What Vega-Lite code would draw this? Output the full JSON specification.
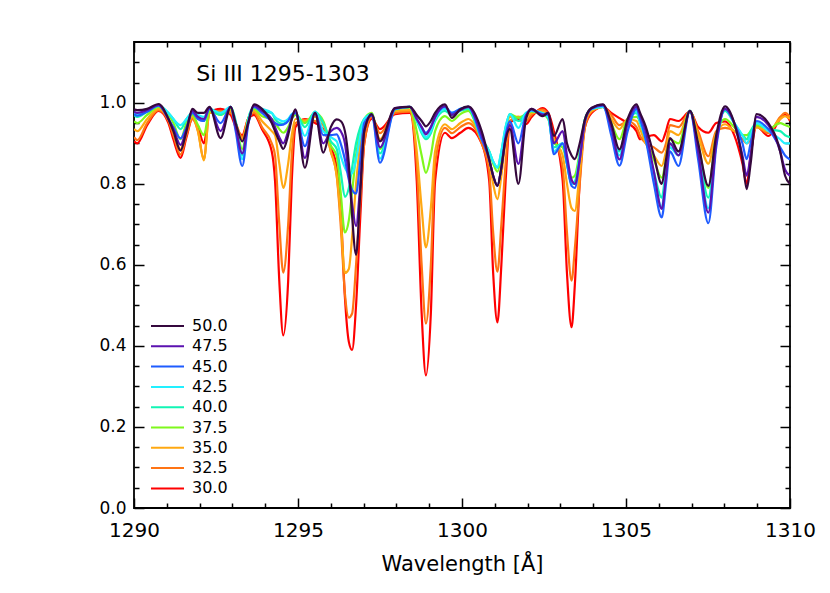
{
  "$schema": "https://vega.github.io/schema/vega-lite/v6.json",
  "width": 656,
  "height": 466,
  "autosize": {"type": "none"},
  "padding": {"left": 134, "top": 42, "right": 40, "bottom": 85},
  "background": "white",
  "config": {
    "view": {"stroke": "black", "strokeWidth": 1.8},
    "font": "DejaVu Sans",
    "axis": {"domain": false, "grid": false, "tickColor": "black", "tickWidth": 1.5, "labelColor": "black", "titleColor": "black", "labelFont": "DejaVu Sans", "titleFont": "DejaVu Sans"}
  },
  "datasets": {
    "spec": [
      {"w":1290.00,"t500":0.984,"t475":0.978,"t450":0.972,"t425":0.975,"t400":0.970,"t375":0.954,"t350":0.935,"t325":0.915,"t300":0.905},
      {"w":1290.10,"t500":0.982,"t475":0.975,"t450":0.968,"t425":0.972,"t400":0.965,"t375":0.950,"t350":0.930,"t325":0.908,"t300":0.900},
      {"w":1290.40,"t500":0.985,"t475":0.982,"t450":0.978,"t425":0.980,"t400":0.978,"t375":0.970,"t350":0.960,"t325":0.950,"t300":0.945},
      {"w":1290.75,"t500":0.997,"t475":0.995,"t450":0.993,"t425":0.993,"t400":0.992,"t375":0.990,"t350":0.985,"t325":0.982,"t300":0.980},
      {"w":1291.05,"t500":0.960,"t475":0.960,"t450":0.960,"t425":0.975,"t400":0.975,"t375":0.970,"t350":0.960,"t325":0.955,"t300":0.950},
      {"w":1291.20,"t500":0.930,"t475":0.935,"t450":0.940,"t425":0.960,"t400":0.960,"t375":0.950,"t350":0.930,"t325":0.920,"t300":0.910},
      {"w":1291.42,"t500":0.882,"t475":0.896,"t450":0.912,"t425":0.945,"t400":0.935,"t375":0.910,"t350":0.885,"t325":0.872,"t300":0.864},
      {"w":1291.60,"t500":0.930,"t475":0.935,"t450":0.940,"t425":0.960,"t400":0.960,"t375":0.950,"t350":0.935,"t325":0.920,"t300":0.915},
      {"w":1291.78,"t500":0.985,"t475":0.980,"t450":0.975,"t425":0.975,"t400":0.975,"t375":0.970,"t350":0.965,"t325":0.960,"t300":0.960},
      {"w":1291.95,"t500":0.975,"t475":0.965,"t450":0.960,"t425":0.970,"t400":0.965,"t375":0.945,"t350":0.930,"t325":0.930,"t300":0.940},
      {"w":1292.13,"t500":0.975,"t475":0.960,"t450":0.955,"t425":0.965,"t400":0.955,"t375":0.920,"t350":0.858,"t325":0.860,"t300":0.900},
      {"w":1292.30,"t500":0.990,"t475":0.988,"t450":0.985,"t425":0.985,"t400":0.985,"t375":0.980,"t350":0.975,"t325":0.975,"t300":0.975},
      {"w":1292.64,"t500":0.913,"t475":0.930,"t450":0.950,"t425":0.975,"t400":0.970,"t375":0.970,"t350":0.975,"t325":0.980,"t300":0.985},
      {"w":1292.95,"t500":0.990,"t475":0.990,"t450":0.990,"t425":0.990,"t400":0.990,"t375":0.985,"t350":0.980,"t325":0.975,"t300":0.970},
      {"w":1293.10,"t500":0.950,"t475":0.940,"t450":0.930,"t425":0.950,"t400":0.955,"t375":0.950,"t350":0.950,"t325":0.950,"t300":0.940},
      {"w":1293.30,"t500":0.905,"t475":0.875,"t450":0.844,"t425":0.861,"t400":0.870,"t375":0.886,"t350":0.910,"t325":0.915,"t300":0.920},
      {"w":1293.48,"t500":0.950,"t475":0.950,"t450":0.945,"t425":0.955,"t400":0.960,"t375":0.960,"t350":0.960,"t325":0.960,"t300":0.960},
      {"w":1293.66,"t500":0.996,"t475":0.993,"t450":0.990,"t425":0.990,"t400":0.990,"t375":0.985,"t350":0.980,"t325":0.975,"t300":0.970},
      {"w":1293.90,"t500":0.985,"t475":0.980,"t450":0.975,"t425":0.985,"t400":0.980,"t375":0.967,"t350":0.955,"t325":0.940,"t300":0.935},
      {"w":1294.20,"t500":0.950,"t475":0.960,"t450":0.955,"t425":0.975,"t400":0.975,"t375":0.960,"t350":0.930,"t325":0.900,"t300":0.880},
      {"w":1294.30,"t500":0.930,"t475":0.940,"t450":0.950,"t425":0.965,"t400":0.960,"t375":0.950,"t350":0.920,"t325":0.870,"t300":0.807},
      {"w":1294.43,"t500":0.905,"t475":0.915,"t450":0.945,"t425":0.958,"t400":0.950,"t375":0.935,"t350":0.850,"t325":0.700,"t300":0.560},
      {"w":1294.55,"t500":0.886,"t475":0.900,"t450":0.946,"t425":0.954,"t400":0.948,"t375":0.926,"t350":0.790,"t325":0.581,"t300":0.426},
      {"w":1294.70,"t500":0.920,"t475":0.930,"t450":0.955,"t425":0.960,"t400":0.958,"t375":0.940,"t350":0.850,"t325":0.700,"t300":0.560},
      {"w":1294.81,"t500":0.960,"t475":0.960,"t450":0.970,"t425":0.972,"t400":0.970,"t375":0.960,"t350":0.920,"t325":0.870,"t300":0.807},
      {"w":1294.92,"t500":0.984,"t475":0.980,"t450":0.975,"t425":0.975,"t400":0.975,"t375":0.970,"t350":0.960,"t325":0.950,"t300":0.940},
      {"w":1295.21,"t500":0.840,"t475":0.864,"t450":0.893,"t425":0.918,"t400":0.940,"t375":0.950,"t350":0.955,"t325":0.958,"t300":0.960},
      {"w":1295.52,"t500":0.975,"t475":0.975,"t450":0.975,"t425":0.978,"t400":0.978,"t375":0.975,"t350":0.965,"t325":0.955,"t300":0.950},
      {"w":1295.77,"t500":0.877,"t475":0.900,"t450":0.920,"t425":0.930,"t400":0.950,"t375":0.955,"t350":0.950,"t325":0.945,"t300":0.935},
      {"w":1296.00,"t500":0.940,"t475":0.930,"t450":0.920,"t425":0.915,"t400":0.905,"t375":0.895,"t350":0.880,"t325":0.880,"t300":0.890},
      {"w":1296.18,"t500":0.959,"t475":0.938,"t450":0.922,"t425":0.905,"t400":0.886,"t375":0.868,"t350":0.820,"t325":0.820,"t300":0.840},
      {"w":1296.30,"t500":0.955,"t475":0.930,"t450":0.900,"t425":0.870,"t400":0.830,"t375":0.780,"t350":0.720,"t325":0.700,"t300":0.740},
      {"w":1296.43,"t500":0.930,"t475":0.900,"t450":0.860,"t425":0.840,"t400":0.768,"t375":0.680,"t350":0.580,"t325":0.530,"t300":0.520},
      {"w":1296.55,"t500":0.850,"t475":0.820,"t450":0.810,"t425":0.826,"t400":0.790,"t375":0.710,"t350":0.590,"t325":0.470,"t300":0.410},
      {"w":1296.65,"t500":0.720,"t475":0.750,"t450":0.785,"t425":0.826,"t400":0.840,"t375":0.780,"t350":0.670,"t325":0.480,"t300":0.390},
      {"w":1296.77,"t500":0.625,"t475":0.696,"t450":0.776,"t425":0.860,"t400":0.900,"t375":0.870,"t350":0.800,"t325":0.600,"t300":0.500},
      {"w":1296.90,"t500":0.780,"t475":0.800,"t450":0.860,"t425":0.920,"t400":0.940,"t375":0.930,"t350":0.900,"t325":0.760,"t300":0.720},
      {"w":1297.02,"t500":0.930,"t475":0.930,"t450":0.950,"t425":0.960,"t400":0.960,"t375":0.960,"t350":0.950,"t325":0.900,"t300":0.900},
      {"w":1297.25,"t500":0.972,"t475":0.970,"t450":0.968,"t425":0.970,"t400":0.972,"t375":0.975,"t350":0.970,"t325":0.965,"t300":0.960},
      {"w":1297.50,"t500":0.905,"t475":0.890,"t450":0.852,"t425":0.862,"t400":0.875,"t375":0.886,"t350":0.910,"t325":0.925,"t300":0.935},
      {"w":1297.96,"t500":0.987,"t475":0.987,"t450":0.985,"t425":0.985,"t400":0.985,"t375":0.983,"t350":0.980,"t325":0.975,"t300":0.972},
      {"w":1298.41,"t500":0.990,"t475":0.990,"t450":0.990,"t425":0.990,"t400":0.990,"t375":0.988,"t350":0.982,"t325":0.978,"t300":0.975},
      {"w":1298.62,"t500":0.970,"t475":0.960,"t450":0.960,"t425":0.960,"t400":0.955,"t375":0.930,"t350":0.880,"t325":0.850,"t300":0.807},
      {"w":1298.77,"t500":0.955,"t475":0.940,"t450":0.940,"t425":0.930,"t400":0.925,"t375":0.870,"t350":0.740,"t325":0.600,"t300":0.480},
      {"w":1298.90,"t500":0.942,"t475":0.922,"t450":0.926,"t425":0.915,"t400":0.910,"t375":0.827,"t350":0.643,"t325":0.455,"t300":0.327},
      {"w":1299.05,"t500":0.955,"t475":0.940,"t450":0.940,"t425":0.930,"t400":0.925,"t375":0.870,"t350":0.740,"t325":0.600,"t300":0.480},
      {"w":1299.18,"t500":0.975,"t475":0.965,"t450":0.965,"t425":0.960,"t400":0.955,"t375":0.930,"t350":0.880,"t325":0.850,"t300":0.807},
      {"w":1299.48,"t500":0.996,"t475":0.992,"t450":0.990,"t425":0.985,"t400":0.980,"t375":0.967,"t350":0.947,"t325":0.938,"t300":0.926},
      {"w":1299.69,"t500":0.963,"t475":0.970,"t450":0.975,"t425":0.975,"t400":0.970,"t375":0.955,"t350":0.935,"t325":0.925,"t300":0.913},
      {"w":1299.95,"t500":0.984,"t475":0.982,"t450":0.985,"t425":0.985,"t400":0.980,"t375":0.972,"t350":0.950,"t325":0.940,"t300":0.926},
      {"w":1300.19,"t500":0.991,"t475":0.990,"t450":0.990,"t425":0.990,"t400":0.985,"t375":0.980,"t350":0.960,"t325":0.950,"t300":0.938},
      {"w":1300.60,"t500":0.930,"t475":0.920,"t450":0.910,"t425":0.910,"t400":0.910,"t375":0.910,"t350":0.910,"t325":0.900,"t300":0.900},
      {"w":1300.83,"t500":0.860,"t475":0.860,"t450":0.860,"t425":0.880,"t400":0.880,"t375":0.880,"t350":0.860,"t325":0.830,"t300":0.807},
      {"w":1300.95,"t500":0.820,"t475":0.820,"t450":0.820,"t425":0.855,"t400":0.855,"t375":0.850,"t350":0.800,"t325":0.680,"t300":0.580},
      {"w":1301.08,"t500":0.795,"t475":0.795,"t450":0.795,"t425":0.840,"t400":0.840,"t375":0.830,"t350":0.762,"t325":0.583,"t300":0.458},
      {"w":1301.20,"t500":0.840,"t475":0.840,"t450":0.840,"t425":0.880,"t400":0.880,"t375":0.870,"t350":0.820,"t325":0.700,"t300":0.600},
      {"w":1301.33,"t500":0.910,"t475":0.910,"t450":0.920,"t425":0.940,"t400":0.940,"t375":0.935,"t350":0.910,"t325":0.850,"t300":0.807},
      {"w":1301.46,"t500":0.935,"t475":0.945,"t450":0.954,"t425":0.972,"t400":0.972,"t375":0.972,"t350":0.965,"t325":0.955,"t300":0.950},
      {"w":1301.72,"t500":0.800,"t475":0.849,"t450":0.900,"t425":0.938,"t400":0.955,"t375":0.963,"t350":0.965,"t325":0.965,"t300":0.960},
      {"w":1301.95,"t500":0.960,"t475":0.965,"t450":0.970,"t425":0.975,"t400":0.975,"t375":0.972,"t350":0.965,"t325":0.955,"t300":0.947},
      {"w":1302.12,"t500":0.985,"t475":0.985,"t450":0.982,"t425":0.980,"t400":0.980,"t375":0.978,"t350":0.975,"t325":0.970,"t300":0.965},
      {"w":1302.45,"t500":0.967,"t475":0.970,"t450":0.972,"t425":0.975,"t400":0.975,"t375":0.972,"t350":0.978,"t325":0.983,"t300":0.987},
      {"w":1302.63,"t500":0.975,"t475":0.975,"t450":0.970,"t425":0.965,"t400":0.962,"t375":0.960,"t350":0.965,"t325":0.970,"t300":0.975},
      {"w":1302.80,"t500":0.918,"t475":0.900,"t450":0.873,"t425":0.880,"t400":0.890,"t375":0.900,"t350":0.910,"t325":0.915,"t300":0.930},
      {"w":1303.07,"t500":0.960,"t475":0.930,"t450":0.900,"t425":0.900,"t400":0.900,"t375":0.890,"t350":0.870,"t325":0.840,"t300":0.807},
      {"w":1303.20,"t500":0.900,"t475":0.870,"t450":0.850,"t425":0.850,"t400":0.850,"t375":0.850,"t350":0.800,"t325":0.680,"t300":0.580},
      {"w":1303.34,"t500":0.870,"t475":0.810,"t450":0.795,"t425":0.800,"t400":0.800,"t375":0.815,"t350":0.740,"t325":0.561,"t300":0.446},
      {"w":1303.44,"t500":0.861,"t475":0.800,"t450":0.790,"t425":0.800,"t400":0.805,"t375":0.820,"t350":0.733,"t325":0.640,"t300":0.550},
      {"w":1303.59,"t500":0.900,"t475":0.860,"t450":0.860,"t425":0.870,"t400":0.870,"t375":0.880,"t350":0.830,"t325":0.800,"t300":0.807},
      {"w":1303.75,"t500":0.960,"t475":0.955,"t450":0.955,"t425":0.960,"t400":0.960,"t375":0.960,"t350":0.950,"t325":0.940,"t300":0.940},
      {"w":1303.95,"t500":0.987,"t475":0.987,"t450":0.985,"t425":0.985,"t400":0.985,"t375":0.985,"t350":0.980,"t325":0.978,"t300":0.975},
      {"w":1304.30,"t500":0.996,"t475":0.995,"t450":0.993,"t425":0.990,"t400":0.990,"t375":0.990,"t350":0.990,"t325":0.990,"t300":0.990},
      {"w":1304.55,"t500":0.950,"t475":0.940,"t450":0.920,"t425":0.940,"t400":0.945,"t375":0.950,"t350":0.960,"t325":0.970,"t300":0.975},
      {"w":1304.80,"t500":0.885,"t475":0.860,"t450":0.845,"t425":0.870,"t400":0.880,"t375":0.910,"t350":0.935,"t325":0.945,"t300":0.962},
      {"w":1305.05,"t500":0.960,"t475":0.950,"t450":0.930,"t425":0.950,"t400":0.955,"t375":0.960,"t350":0.960,"t325":0.955,"t300":0.950},
      {"w":1305.32,"t500":0.996,"t475":0.990,"t450":0.985,"t425":0.980,"t400":0.975,"t375":0.965,"t350":0.955,"t325":0.940,"t300":0.930},
      {"w":1305.43,"t500":0.975,"t475":0.970,"t450":0.960,"t425":0.955,"t400":0.950,"t375":0.954,"t350":0.935,"t325":0.918,"t300":0.910},
      {"w":1305.60,"t500":0.942,"t475":0.930,"t450":0.910,"t425":0.910,"t400":0.910,"t375":0.910,"t350":0.900,"t325":0.900,"t300":0.915},
      {"w":1305.85,"t500":0.870,"t475":0.830,"t450":0.800,"t425":0.820,"t400":0.830,"t375":0.860,"t350":0.870,"t325":0.890,"t300":0.920},
      {"w":1306.09,"t500":0.800,"t475":0.738,"t450":0.717,"t425":0.741,"t400":0.766,"t375":0.815,"t350":0.844,"t325":0.877,"t300":0.905},
      {"w":1306.22,"t500":0.860,"t475":0.820,"t450":0.800,"t425":0.830,"t400":0.840,"t375":0.860,"t350":0.880,"t325":0.900,"t300":0.930},
      {"w":1306.34,"t500":0.913,"t475":0.900,"t450":0.880,"t425":0.890,"t400":0.900,"t375":0.910,"t350":0.930,"t325":0.945,"t300":0.960},
      {"w":1306.60,"t500":0.880,"t475":0.870,"t450":0.844,"t425":0.870,"t400":0.880,"t375":0.900,"t350":0.920,"t325":0.940,"t300":0.955},
      {"w":1306.95,"t500":0.980,"t475":0.980,"t450":0.980,"t425":0.980,"t400":0.980,"t375":0.980,"t350":0.978,"t325":0.978,"t300":0.978},
      {"w":1307.20,"t500":0.900,"t475":0.880,"t450":0.860,"t425":0.880,"t400":0.890,"t375":0.900,"t350":0.920,"t325":0.930,"t300":0.940},
      {"w":1307.51,"t500":0.795,"t475":0.729,"t450":0.703,"t425":0.740,"t400":0.766,"t375":0.790,"t350":0.850,"t325":0.868,"t300":0.926},
      {"w":1307.75,"t500":0.920,"t475":0.900,"t450":0.890,"t425":0.900,"t400":0.910,"t375":0.920,"t350":0.925,"t325":0.930,"t300":0.950},
      {"w":1308.02,"t500":0.991,"t475":0.985,"t450":0.985,"t425":0.985,"t400":0.980,"t375":0.960,"t350":0.947,"t325":0.938,"t300":0.954},
      {"w":1308.30,"t500":0.950,"t475":0.950,"t450":0.950,"t425":0.950,"t400":0.950,"t375":0.940,"t350":0.930,"t325":0.930,"t300":0.920},
      {"w":1308.55,"t500":0.860,"t475":0.870,"t450":0.900,"t425":0.920,"t400":0.920,"t375":0.920,"t350":0.920,"t325":0.910,"t300":0.850},
      {"w":1308.68,"t500":0.787,"t475":0.820,"t450":0.861,"t425":0.900,"t400":0.910,"t375":0.920,"t350":0.910,"t325":0.900,"t300":0.800},
      {"w":1308.80,"t500":0.850,"t475":0.870,"t450":0.900,"t425":0.920,"t400":0.930,"t375":0.930,"t350":0.920,"t325":0.910,"t300":0.870},
      {"w":1308.98,"t500":0.972,"t475":0.965,"t450":0.955,"t425":0.950,"t400":0.950,"t375":0.945,"t350":0.940,"t325":0.940,"t300":0.942},
      {"w":1309.34,"t500":0.950,"t475":0.945,"t450":0.935,"t425":0.930,"t400":0.935,"t375":0.935,"t350":0.930,"t325":0.925,"t300":0.918},
      {"w":1309.70,"t500":0.880,"t475":0.880,"t450":0.890,"t425":0.910,"t400":0.930,"t375":0.950,"t350":0.960,"t325":0.965,"t300":0.960},
      {"w":1309.85,"t500":0.820,"t475":0.835,"t450":0.870,"t425":0.900,"t400":0.920,"t375":0.945,"t350":0.967,"t325":0.975,"t300":0.970},
      {"w":1310.00,"t500":0.800,"t475":0.820,"t450":0.860,"t425":0.900,"t400":0.915,"t375":0.940,"t350":0.960,"t325":0.965,"t300":0.955}
    ],
    "frame": [{"w": 1290, "flux": 0}],
    "label": [{"w": 1291.9, "flux": 1.07, "text": "Si III 1295-1303"}]
  },
  "layer": [
    {
      "data": {"name": "spec"},
      "transform": [{"fold": ["t300","t325","t350","t375","t400","t425","t450","t475","t500"], "as": ["series", "flux"]}],
      "mark": {"type": "line", "interpolate": "monotone", "strokeWidth": 2.2, "clip": true},
      "encoding": {
        "x": {"field": "w", "type": "quantitative", "scale": {"domain": [1290, 1310], "nice": false, "zero": false},
              "axis": {"orient": "bottom", "values": [1290, 1295, 1300, 1305, 1310], "format": "d", "tickSize": -10, "labelPadding": 22, "labelFlush": false, "labelFontSize": 20, "title": "Wavelength [Å]", "titleFontSize": 21, "titleFontWeight": "normal", "titlePadding": 13}},
        "y": {"field": "flux", "type": "quantitative", "scale": {"domain": [0, 1.15], "nice": false, "zero": false},
              "axis": {"orient": "left", "values": [0, 0.2, 0.4, 0.6, 0.8, 1.0], "format": ".1f", "tickSize": -10, "labelPadding": 18, "labelFontSize": 17, "title": null}},
        "color": {"field": "series", "type": "nominal",
                  "scale": {"domain": ["t500","t475","t450","t425","t400","t375","t350","t325","t300"],
                            "range": ["#35083d","#5b12b0","#1f5cff","#22f0ff","#12f5b5","#7ff81c","#ffa812","#ff7414","#ff0000"]},
                  "legend": {"orient": "none", "legendX": 16, "legendY": 274, "title": null, "symbolType": "stroke", "symbolSize": 1089, "symbolStrokeWidth": 2, "clipHeight": 20, "rowPadding": 0.3, "labelOffset": 7, "labelFontSize": 16, "labelFont": "DejaVu Sans", "labelColor": "black", "padding": 0,
                             "labelExpr": "format(toNumber(slice(datum.label, 1)) / 10, '.1f')"}}
      }
    },
    {
      "data": {"name": "frame"},
      "mark": {"type": "point", "opacity": 0, "size": 0},
      "encoding": {
        "x": {"field": "w", "type": "quantitative", "scale": {"domain": [1290, 1310], "nice": false, "zero": false},
              "axis": {"orient": "bottom", "values": [1291,1292,1293,1294,1296,1297,1298,1299,1301,1302,1303,1304,1306,1307,1308,1309], "tickSize": -5, "labels": false, "title": null}},
        "y": {"field": "flux", "type": "quantitative", "scale": {"domain": [0, 1.15], "nice": false, "zero": false},
              "axis": {"orient": "left", "values": [0.05,0.1,0.15,0.25,0.3,0.35,0.45,0.5,0.55,0.65,0.7,0.75,0.85,0.9,0.95,1.05,1.1], "tickSize": -5, "labels": false, "title": null}}
      }
    },
    {
      "data": {"name": "frame"},
      "mark": {"type": "point", "opacity": 0, "size": 0},
      "encoding": {
        "x": {"field": "w", "type": "quantitative", "scale": {"domain": [1290, 1310], "nice": false, "zero": false},
              "axis": {"orient": "top", "values": [1290, 1295, 1300, 1305, 1310], "tickSize": -10, "labels": false, "title": null}},
        "y": {"field": "flux", "type": "quantitative", "scale": {"domain": [0, 1.15], "nice": false, "zero": false},
              "axis": {"orient": "right", "values": [0, 0.2, 0.4, 0.6, 0.8, 1.0], "tickSize": -10, "labels": false, "title": null}}
      }
    },
    {
      "data": {"name": "frame"},
      "mark": {"type": "point", "opacity": 0, "size": 0},
      "encoding": {
        "x": {"field": "w", "type": "quantitative", "scale": {"domain": [1290, 1310], "nice": false, "zero": false},
              "axis": {"orient": "top", "values": [1291,1292,1293,1294,1296,1297,1298,1299,1301,1302,1303,1304,1306,1307,1308,1309], "tickSize": -5, "labels": false, "title": null}},
        "y": {"field": "flux", "type": "quantitative", "scale": {"domain": [0, 1.15], "nice": false, "zero": false},
              "axis": {"orient": "right", "values": [0.05,0.1,0.15,0.25,0.3,0.35,0.45,0.5,0.55,0.65,0.7,0.75,0.85,0.9,0.95,1.05,1.1], "tickSize": -5, "labels": false, "title": null}}
      }
    },
    {
      "data": {"name": "label"},
      "mark": {"type": "text", "align": "left", "baseline": "middle", "fontSize": 22, "font": "DejaVu Sans", "color": "black"},
      "encoding": {
        "x": {"field": "w", "type": "quantitative", "scale": {"domain": [1290, 1310], "nice": false, "zero": false}, "axis": null},
        "y": {"field": "flux", "type": "quantitative", "scale": {"domain": [0, 1.15], "nice": false, "zero": false}, "axis": null},
        "text": {"field": "text"}
      }
    }
  ],
  "resolve": {"axis": {"x": "independent", "y": "independent"}}
}
